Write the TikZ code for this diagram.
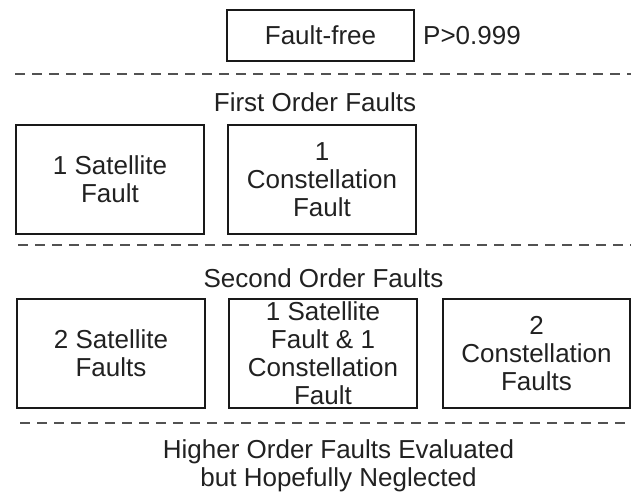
\documentclass[tikz,border=0pt]{standalone}
\usepackage{fontspec}
\setmainfont{Liberation Sans}
\begin{document}
\begin{tikzpicture}[x=1pt,y=-1pt,
  every node/.style={font=\fontsize{26}{28}\selectfont, text=black!87},
  fbox/.style={draw=black!90, line width=1.3pt, minimum width=188pt, minimum height=109pt, inner sep=0pt, align=center},
  sep/.style={draw=black!68, line width=2pt, dash pattern=on 10pt off 7pt},
  lbl/.style={inner sep=0pt, align=center}]
\useasboundingbox (0,0) rectangle (631,494);
% top
\node[fbox, minimum width=187pt, minimum height=51pt] (ff) at (320.5,35.5) {Fault-free};
\node[lbl, anchor=west] (p) at (423,36) {P>0.999};
\coordinate (d1a) at (15,74); \coordinate (d1b) at (631,74);
\draw[sep] (d1a) -- (d1b);
% first order
\node[lbl] (fo) at (315,102) {First Order Faults};
\node[fbox] (s1) at (110,179.5) {1 Satellite\\Fault};
\node[fbox] (c1) at (322,179.5) {1\\Constellation\\Fault};
\coordinate (d2a) at (18,245); \coordinate (d2b) at (631,245);
\draw[sep] (d2a) -- (d2b);
% second order
\node[lbl] (so) at (323.5,278) {Second Order Faults};
\node[fbox] (s2) at (111,353.5) {2 Satellite\\Faults};
\node[fbox] (sc) at (323,353.5) {1 Satellite\\Fault \& 1\\Constellation\\Fault};
\node[fbox, minimum width=187pt] (c2) at (536.5,353.5) {2\\Constellation\\Faults};
\coordinate (d3a) at (20,423); \coordinate (d3b) at (631,423);
\draw[sep] (d3a) -- (d3b);
% higher
\node[lbl] (ho) at (338.5,466) {Higher Order Faults Evaluated\\but Hopefully Neglected};
\end{tikzpicture}
\end{document}
